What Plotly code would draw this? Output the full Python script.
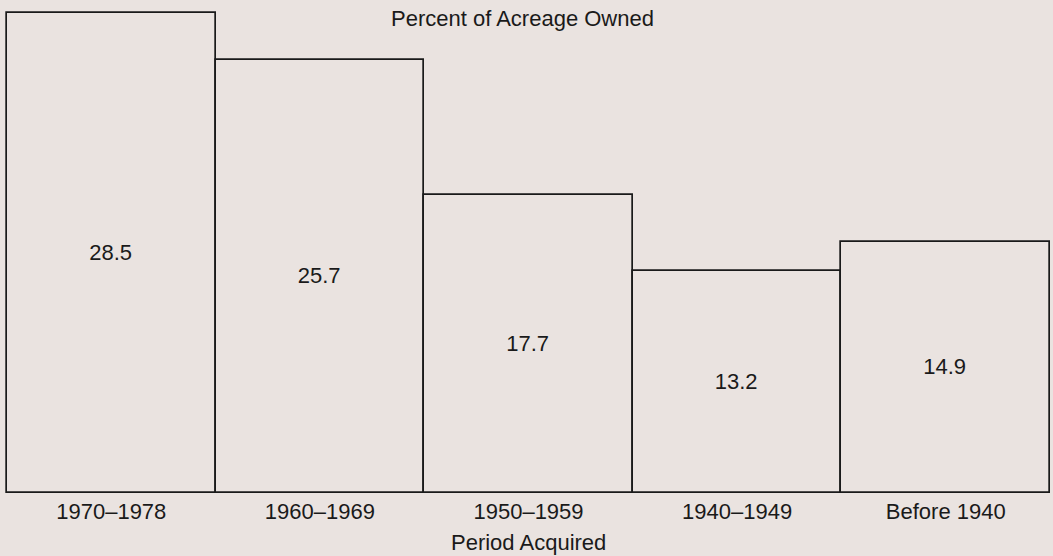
import plotly.graph_objects as go

periods = ["1970–1978", "1960–1969", "1950–1959", "1940–1949", "Before 1940"]
percent_owned = [28.5, 25.7, 17.7, 13.2, 14.9]
labels = ["28.5", "25.7", "17.7", "13.2", "14.9"]

bg = "#eae3e0"
ink = "#1a1a1a"
font_family = "Liberation Sans, Arial, sans-serif"

fig = go.Figure(
    go.Bar(
        x=periods,
        y=percent_owned,
        text=labels,
        textposition="inside",
        insidetextanchor="middle",
        textfont=dict(family=font_family, size=22, color=ink),
        marker=dict(color=bg, line=dict(color=ink, width=1.7)),
        width=1.0,
        cliponaxis=False,
        hoverinfo="skip",
    )
)

fig.update_layout(
    width=1053,
    height=556,
    paper_bgcolor=bg,
    plot_bgcolor=bg,
    margin=dict(l=3, r=0, t=8, b=60),
    bargap=0,
    showlegend=False,
    font=dict(family=font_family, size=22, color=ink),
    xaxis=dict(
        range=[-0.519, 4.514],
        showgrid=False,
        zeroline=False,
        showline=False,
        ticks="",
        tickfont=dict(size=22),
    ),
    yaxis=dict(
        range=[-0.15, 28.8],
        visible=False,
        showgrid=False,
        zeroline=False,
    ),
    annotations=[
        dict(
            text="Percent of Acreage Owned",
            x=0.495, y=1.0, xref="paper", yref="paper",
            xanchor="center", yanchor="middle",
            yshift=-10,
            showarrow=False,
            font=dict(size=22, color=ink),
        ),
        dict(
            text="Period Acquired",
            x=0.5, y=0.0, xref="paper", yref="paper",
            xanchor="center", yanchor="middle",
            yshift=-46,
            showarrow=False,
            font=dict(size=22, color=ink),
        ),
    ],
)

fig.write_html(
    "out.html",
    config={"displayModeBar": False},
    post_script="document.body.style.margin='0';document.body.style.overflow='hidden';",
)
